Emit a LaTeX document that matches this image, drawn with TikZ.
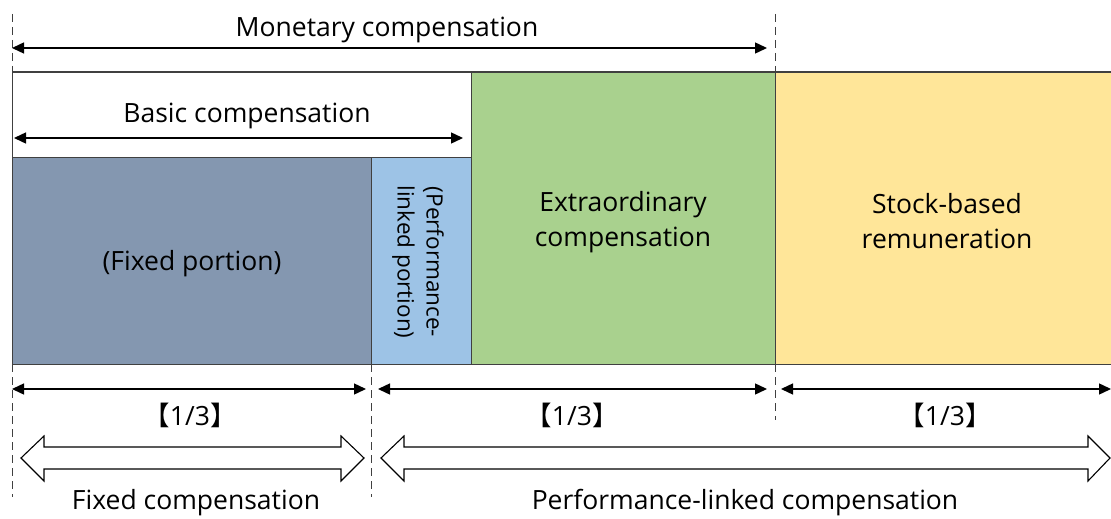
\documentclass[tikz,border=0pt]{standalone}
\usepackage{fontspec}
\setmainfont{Open Sans}
\newfontfamily\cjkbr{Noto Sans CJK JP}
\usetikzlibrary{arrows.meta}
\definecolor{fixedc}{HTML}{8497B0}
\definecolor{perfc}{HTML}{9DC3E6}
\definecolor{extrac}{HTML}{A9D18E}
\definecolor{stockc}{HTML}{FFE699}
\definecolor{edgec}{HTML}{404040}
\newcommand{\third}{{\cjkbr 【}1/3{\cjkbr 】}}
\tikzset{
  part/.style={draw=edgec, line width=1.2pt, inner sep=0pt, anchor=north west},
  big/.style={font=\fontsize{26.5}{35}\selectfont, align=center, inner sep=0pt},
  span/.style={line width=1.4pt, {Triangle[length=12pt,width=11pt]}-{Triangle[length=12pt,width=11pt]}},
  guide/.style={line width=1pt, dash pattern=on 8pt off 5pt, edgec},
  hollow/.style={draw=black, line width=1.1pt, fill=white, line join=miter}
}
\begin{document}
\begin{tikzpicture}[x=1pt, y=-1pt]
\useasboundingbox (0,0) rectangle (1111,519);

% compensation blocks
\node[part, fill=white, minimum width=459pt, minimum height=85pt] (basic) at (12,72) {};
\node[part, fill=fixedc, minimum width=359pt, minimum height=207pt] (fixed) at (12,157) {};
\node[big] (fixedtext) at (192,264) {(Fixed portion)};
\node[part, fill=perfc, minimum width=100pt, minimum height=207pt] (perf) at (371,157) {};
\node[rotate=-90, font=\fontsize{22.5}{29}\selectfont, align=center, inner sep=0pt] (perftext) at (418,262) {(Performance-\\linked portion)};
\node[part, fill=extrac, minimum width=304pt, minimum height=292pt] (extra) at (471,72) {};
\node[big] (extratext) at (623,222) {Extraordinary\\compensation};
\node[part, fill=stockc, minimum width=345pt, minimum height=292pt] (stock) at (775,72) {};
\node[big] (stocktext) at (947,221) {Stock-based\\remuneration};
\draw[edgec, line width=1.2pt] (basic.north west) -- (1111,72);

% dashed guides
\coordinate (gA1) at (12,14);   \coordinate (gA2) at (12,72);
\coordinate (gA3) at (12,364);  \coordinate (gA4) at (12,497);
\coordinate (gB1) at (775,14);  \coordinate (gB2) at (775,72);
\coordinate (gB3) at (775,364); \coordinate (gB4) at (775,420);
\coordinate (gC1) at (371,364); \coordinate (gC2) at (371,497);
\draw[guide] (gA1) -- (gA2);
\draw[guide] (gA3) -- (gA4);
\draw[guide] (gB1) -- (gB2);
\draw[guide] (gB3) -- (gB4);
\draw[guide] (gC1) -- (gC2);

% dimension arrows
\coordinate (m1) at (12,48);  \coordinate (m2) at (767,48);
\draw[span] (m1) -- (m2);
\node[big] (montext) at (387,30) {Monetary compensation};
\coordinate (b1) at (14,138); \coordinate (b2) at (463,138);
\draw[span] (b1) -- (b2);
\node[big] (basictext) at (247,116) {Basic compensation};

\coordinate (s1) at (12,389);  \coordinate (s2) at (366,389);
\coordinate (s3) at (378,389); \coordinate (s4) at (767,389);
\coordinate (s5) at (781,389); \coordinate (s6) at (1111,389);
\draw[span] (s1) -- (s2);
\draw[span] (s3) -- (s4);
\draw[span] (s5) -- (s6);
\node[big] (third1) at (190,415) {\third};
\node[big] (third2) at (572,415) {\third};
\node[big] (third3) at (945,415) {\third};

% hollow double arrows
\draw[hollow] (21,458) -- (44,436) -- (44,447) -- (341,447) -- (341,436) -- (364,458)
  -- (341,481) -- (341,469) -- (44,469) -- (44,481) -- cycle;
\draw[hollow] (381,458) -- (404,436) -- (404,447) -- (1088,447) -- (1088,436) -- (1110,458)
  -- (1088,481) -- (1088,469) -- (404,469) -- (404,481) -- cycle;
\node[big] (fixtext) at (196,503) {Fixed compensation};
\node[big] (perftxt) at (745,503) {Performance-linked compensation};
\end{tikzpicture}
\end{document}
